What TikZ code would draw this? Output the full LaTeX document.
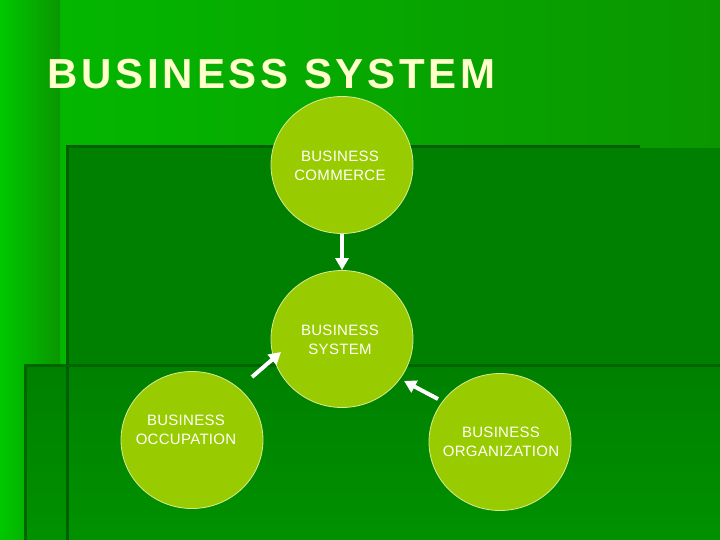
\documentclass[tikz,border=0pt]{standalone}
\usepackage{fontspec}
\setmainfont{Liberation Sans}
\usetikzlibrary{shapes.geometric,arrows.meta}
\definecolor{bgl}{RGB}{0,200,0}
\definecolor{bgr}{RGB}{10,150,0}
\definecolor{inA}{RGB}{0,128,0}
\definecolor{inB}{RGB}{0,145,0}
\definecolor{edge}{RGB}{0,95,0}
\definecolor{circ}{RGB}{153,204,0}
\definecolor{ttl}{RGB}{255,255,204}
\begin{document}
\begin{tikzpicture}[x=1pt,y=-1pt,
  bub/.style={ellipse,draw=white!60!circ,line width=0.8pt,fill=circ,minimum width=142pt,minimum height=137pt,inner sep=0pt},
  lab/.style={font=\fontsize{15}{19}\selectfont\addfontfeature{LetterSpace=2},align=center,text=white},
  arr/.style={draw=white,line width=4pt,-{Triangle[width=13pt,length=12pt]}}]
\useasboundingbox (0,0) rectangle (720,540);
\shade[left color=bgl!70!bgr,right color=bgr] (0,0) rectangle (720,540);
\shade[left color=bgl,right color=bgr] (0,0) rectangle (60,540);
\fill[inA] (67,148) rectangle (720,540);
\shade[top color=inA,bottom color=inB] (25,364) rectangle (720,540);
\draw[edge,line width=3pt] (67,540) -- (67,147) -- (640,147);
\draw[edge!80!inA,line width=3pt] (25,540) -- (25,365) -- (720,365);
\node[anchor=base west,font=\bfseries\fontsize{42}{44}\selectfont\addfontfeature{LetterSpace=9},text=ttl] (title) at (44,89) {BUSINESS SYSTEM};
\node[bub] (com) at (342,165) {};
\node[bub] (sys) at (342,339) {};
\node[bub] (occ) at (192,440) {};
\node[bub] (org) at (500,442) {};
\node[lab] (tcom) at (340,166) {BUSINESS\\COMMERCE};
\node[lab] (tsys) at (340,340) {BUSINESS\\SYSTEM};
\node[lab] (tocc) at (186,430) {BUSINESS\\OCCUPATION};
\node[lab] (torg) at (501,442) {BUSINESS\\ORGANIZATION};
\draw[arr] (com.south) -- (sys.north);
\draw[arr] (occ) ++(60,-63) coordinate (o1) -- ++(29,-25) coordinate (o2);
\draw[arr] (org) ++(-62,-43) coordinate (r1) -- ++(-34,-18) coordinate (r2);
\end{tikzpicture}
\end{document}
